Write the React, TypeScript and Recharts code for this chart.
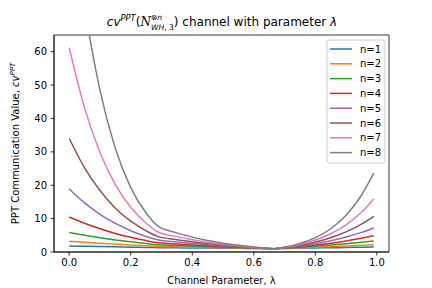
import React from 'react';
import { LineChart, Line, XAxis, YAxis, ReferenceArea, Customized } from 'recharts';

const lambdas = [0, 0.05, 0.1, 0.15, 0.2, 0.25, 0.29, 0.35, 0.4, 0.45, 0.5, 0.55, 0.6, 0.667, 0.7, 0.75, 0.8, 0.85, 0.9, 0.95, 0.99];

const n1 = [1.8, 1.712, 1.624, 1.536, 1.448, 1.36, 1.29, 1.244, 1.205, 1.167, 1.129, 1.09, 1.052, 1.0, 1.05, 1.125, 1.2, 1.275, 1.35, 1.425, 1.485];
const n2 = [3.24, 2.93, 2.64, 2.36, 2.1, 1.85, 1.66, 1.55, 1.45, 1.36, 1.27, 1.19, 1.11, 1.0, 1.1, 1.26, 1.44, 1.62, 1.82, 2.03, 2.2];
const n3 = [5.83, 5.02, 4.28, 3.62, 3.04, 2.52, 2.15, 1.92, 1.75, 1.59, 1.44, 1.3, 1.16, 1.0, 1.16, 1.42, 1.73, 2.07, 2.46, 2.89, 3.27];
const n4 = [10.5, 8.59, 6.96, 5.57, 4.4, 3.42, 2.77, 2.39, 2.11, 1.85, 1.62, 1.41, 1.22, 1.0, 1.21, 1.6, 2.07, 2.64, 3.32, 4.12, 4.86];
const n5 = [18.9, 14.7, 11.3, 8.55, 6.37, 4.65, 3.57, 2.98, 2.55, 2.16, 1.83, 1.54, 1.29, 1.0, 1.27, 1.8, 2.48, 3.36, 4.48, 5.87, 7.21];
const n6 = [34.0, 25.2, 18.4, 13.1, 9.22, 6.33, 4.6, 3.7, 3.07, 2.53, 2.07, 1.68, 1.35, 1.0, 1.34, 2.02, 2.98, 4.29, 6.04, 8.36, 10.7];
const n7 = [61.2, 43.1, 29.8, 20.2, 13.4, 8.61, 5.93, 4.61, 3.7, 2.95, 2.33, 1.83, 1.42, 1.0, 1.4, 2.27, 3.57, 5.46, 8.15, 11.9, 15.9];
const n8 = [110.2, 73.8, 48.4, 31.0, 19.3, 11.7, 7.65, 5.73, 4.46, 3.44, 2.63, 1.99, 1.49, 1.0, 1.47, 2.56, 4.29, 6.96, 11.0, 17.0, 23.6];

const seriesNames = ['n=1', 'n=2', 'n=3', 'n=4', 'n=5', 'n=6', 'n=7', 'n=8'];
const seriesValues = [n1, n2, n3, n4, n5, n6, n7, n8];
const colors = ['#1f77b4', '#ff7f0e', '#2ca02c', '#d62728', '#9467bd', '#8c564b', '#e377c2', '#7f7f7f'];

const xTicks = [0, 0.2, 0.4, 0.6, 0.8, 1.0];
const yTicks = [0, 10, 20, 30, 40, 50, 60];

const data = lambdas.map((x, i) => {
  const row: Record<string, number> = { x };
  seriesNames.forEach((name, s) => {
    row[name] = seriesValues[s][i];
  });
  return row;
});

const FONT = 'DejaVu Sans';

const Overlay = () => (
  <g fontFamily={FONT} fill="#000">
    {/* Title */}
    <text x={222} y={26} textAnchor="middle" fontSize={12}>
      <tspan fontStyle="italic">cv</tspan>
      <tspan fontStyle="italic" fontSize={8.4} dy={-5}>PPT</tspan>
      <tspan dy={5}>(</tspan>
      <tspan fontStyle="italic" fontFamily="DejaVu Serif">N</tspan>
      <tspan fontSize={7.6} dy={-6}>⊗</tspan>
      <tspan fontSize={7.6} fontStyle="italic">n</tspan>
      <tspan fontSize={7.6} fontStyle="italic" dx={-11.2} dy={10}>WH</tspan>
      <tspan fontSize={7.6}>, 3</tspan>
      <tspan dy={-4}>) channel with parameter </tspan>
      <tspan fontStyle="italic">λ</tspan>
    </text>
    {/* Y label */}
    <text x={19} y={143.5} textAnchor="middle" fontSize={10} transform="rotate(-90 19 143.5)">
      <tspan>PPT Communication Value, </tspan>
      <tspan fontStyle="italic">cv</tspan>
      <tspan fontStyle="italic" fontSize={7} dy={-4}>PPT</tspan>
    </text>
    {/* Legend */}
    <rect x={327} y={40} width={58} height={123} rx={2.5} fill="#fff" fillOpacity={0.8} stroke="#cccccc" strokeWidth={1} />
    {seriesNames.map((name, i) => {
      const y = 49 + i * 14.8;
      return (
        <g key={name}>
          <line x1={330} x2={352} y1={y} y2={y} stroke={colors[i]} strokeWidth={1.5} />
          <text x={360} y={y + 3.6} fontSize={10}>{name}</text>
        </g>
      );
    })}
  </g>
);

export default function App() {
  return (
    <div style={{ position: 'absolute', left: 0, top: 0, width: 432, height: 288, background: '#fff' }}>
      <LineChart width={432} height={288} data={data} margin={{ top: 35, right: 43, bottom: 0, left: 24 }}>
        <XAxis
          dataKey="x"
          type="number"
          domain={[-0.0495, 1.0395]}
          ticks={xTicks}
          allowDataOverflow
          tickFormatter={(v: number) => v.toFixed(1)}
          height={36}
          tickSize={3.5}
          tickMargin={3.5}
          axisLine={{ stroke: '#000', strokeWidth: 0.8 }}
          tickLine={{ stroke: '#000', strokeWidth: 0.8 }}
          tick={{ fill: '#000', fontSize: 10, fontFamily: FONT }}
          label={{ value: 'Channel Parameter, λ', position: 'insideBottom', offset: 4, fill: '#000', fontSize: 10, fontFamily: FONT }}
        />
        <YAxis
          type="number"
          domain={[0, 65]}
          ticks={yTicks}
          allowDataOverflow
          width={30}
          tickSize={3.5}
          tickMargin={3.5}
          axisLine={{ stroke: '#000', strokeWidth: 0.8 }}
          tickLine={{ stroke: '#000', strokeWidth: 0.8 }}
          tick={{ fill: '#000', fontSize: 10, fontFamily: FONT }}
        />
        <ReferenceArea x1={-0.0495} x2={1.0395} y1={0} y2={65} fill="none" stroke="#000" strokeWidth={0.8} ifOverflow="visible" />
        {seriesNames.map((name, i) => (
          <Line
            key={name}
            dataKey={name}
            type="monotone"
            stroke={colors[i]}
            strokeWidth={1.5}
            dot={false}
            isAnimationActive={false}
          />
        ))}
        <Customized component={Overlay} />
      </LineChart>
    </div>
  );
}
